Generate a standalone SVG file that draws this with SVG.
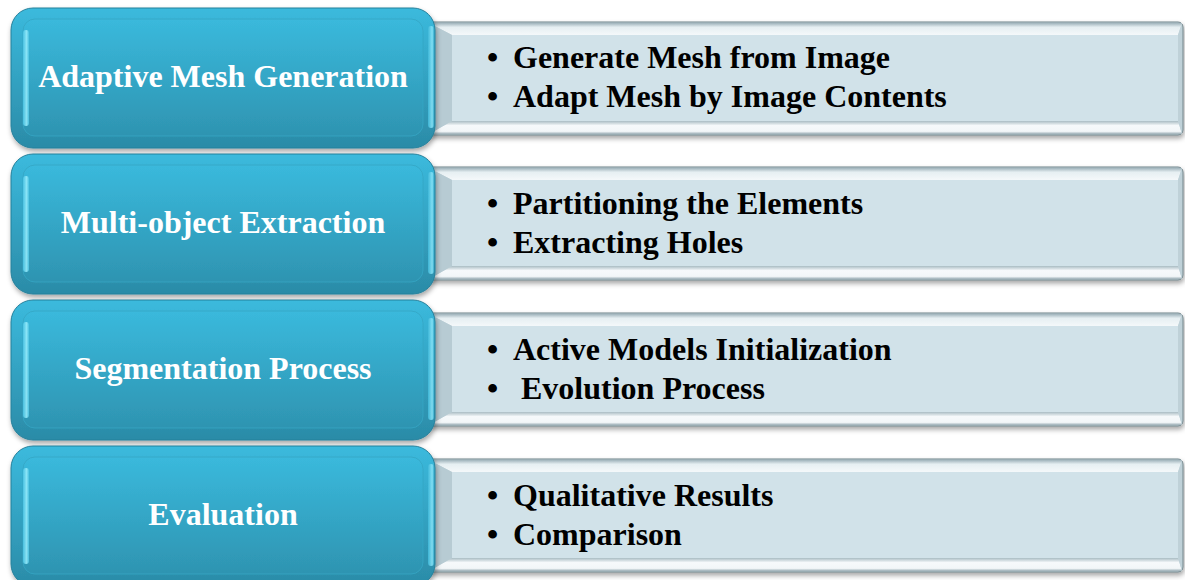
<svg xmlns="http://www.w3.org/2000/svg" width="1185" height="580" viewBox="0 0 1185 580">
<defs>
<style>
.title{font-family:"Liberation Serif","Times New Roman",serif;font-weight:bold;font-size:32px;fill:#ffffff;text-anchor:middle}
.item{font-family:"Liberation Serif","Times New Roman",serif;font-weight:bold;font-size:32px;fill:#000000}
.outer{fill:url(#blueG);stroke:#25809b;stroke-width:1}
.inner{fill:url(#blueIn);stroke:#35a6c4;stroke-width:0.8}
.pout{fill:#c3d5dc;stroke:#6f8288;stroke-width:1}
.ptop{fill:url(#pTopG)}
.pbot{fill:url(#pBotG)}
.pleft{fill:#b7cbd3}
.pright{fill:#bfd1d8}
.pface{fill:#d1e2e9}
.hlL{fill:url(#hlLG);opacity:0.85}
.hlR{fill:url(#hlRG);opacity:0.85}
</style>
<linearGradient id="blueG" x1="0" y1="0" x2="0" y2="1">
<stop offset="0" stop-color="#3bbadd"/>
<stop offset="1" stop-color="#2b8ba7"/>
</linearGradient>
<linearGradient id="blueIn" x1="0" y1="0" x2="0" y2="1">
<stop offset="0" stop-color="#3ab9dc"/>
<stop offset="1" stop-color="#2e94b1"/>
</linearGradient>
<linearGradient id="pTopG" x1="0" y1="0" x2="0" y2="1">
<stop offset="0" stop-color="#9fb3bb"/>
<stop offset="0.35" stop-color="#e6eff2"/>
<stop offset="1" stop-color="#f4f8fa"/>
</linearGradient>
<linearGradient id="pBotG" x1="0" y1="0" x2="0" y2="1">
<stop offset="0" stop-color="#a9bcc3"/>
<stop offset="0.35" stop-color="#f6f9fb"/>
<stop offset="0.8" stop-color="#f2f6f8"/>
<stop offset="1" stop-color="#9aadb5"/>
</linearGradient>
<linearGradient id="hlLG" x1="0" y1="0" x2="1" y2="0">
<stop offset="0" stop-color="#4cc6e6"/>
<stop offset="0.6" stop-color="#9aeefd"/>
<stop offset="1" stop-color="#4cc3e2"/>
</linearGradient>
<linearGradient id="hlRG" x1="0" y1="0" x2="1" y2="0">
<stop offset="0" stop-color="#3fb9da"/>
<stop offset="0.7" stop-color="#8ee8fb"/>
<stop offset="1" stop-color="#3aaecf"/>
</linearGradient>
<filter id="sh" x="-5%" y="-10%" width="115%" height="130%">
<feDropShadow dx="1" dy="3" stdDeviation="2.5" flood-color="#000" flood-opacity="0.35"/>
</filter>
<g id="panelShape">
<rect class="pout" x="428" y="0" width="755" height="113" rx="5"/>
<polygon class="ptop" points="429,1 1182,1 1178,13 452,13"/>
<polygon class="pbot" points="452,99 1178,99 1182,112 429,112"/>
<polygon class="pleft" points="429,1 452,13 452,99 429,112"/>
<polygon class="pright" points="1182,1 1178,13 1178,99 1182,112"/>
<rect class="pface" x="452" y="13" width="726" height="86"/>
</g>
<g id="blueShape">
<rect class="outer" x="11" y="0" width="424" height="140" rx="22"/>
<rect class="inner" x="23" y="11" width="400" height="117" rx="12"/>
<rect class="hlL" x="23" y="22" width="6" height="96" rx="3"/>
<rect class="hlR" x="428" y="18" width="6" height="102" rx="3"/>
</g>
</defs>

<g id="connectors"></g>

<g id="node1">
<use href="#panelShape" y="22" filter="url(#sh)"/>
<use href="#blueShape" y="8" filter="url(#sh)"/>
<text class="title" x="223" y="87">Adaptive Mesh Generation</text>
<text class="item" x="487" y="68">•</text>
<text class="item" x="513" y="68">Generate Mesh from Image</text>
<text class="item" x="487" y="107">•</text>
<text class="item" x="513" y="107">Adapt Mesh by Image Contents</text>
</g>

<g id="node2">
<use href="#panelShape" y="167" filter="url(#sh)"/>
<use href="#blueShape" y="154" filter="url(#sh)"/>
<text class="title" x="223" y="233">Multi-object Extraction</text>
<text class="item" x="487" y="214">•</text>
<text class="item" x="513" y="214">Partitioning the Elements</text>
<text class="item" x="487" y="253">•</text>
<text class="item" x="513" y="253">Extracting Holes</text>
</g>

<g id="node3">
<use href="#panelShape" y="313" filter="url(#sh)"/>
<use href="#blueShape" y="300" filter="url(#sh)"/>
<text class="title" x="223" y="379">Segmentation Process</text>
<text class="item" x="487" y="360">•</text>
<text class="item" x="513" y="360">Active Models Initialization</text>
<text class="item" x="487" y="399">•</text>
<text class="item" x="521" y="399">Evolution Process</text>
</g>

<g id="node4">
<use href="#panelShape" y="459" filter="url(#sh)"/>
<use href="#blueShape" y="446" filter="url(#sh)"/>
<text class="title" x="223" y="525">Evaluation</text>
<text class="item" x="487" y="506">•</text>
<text class="item" x="513" y="506">Qualitative Results</text>
<text class="item" x="487" y="545">•</text>
<text class="item" x="513" y="545">Comparison</text>
</g>
</svg>
